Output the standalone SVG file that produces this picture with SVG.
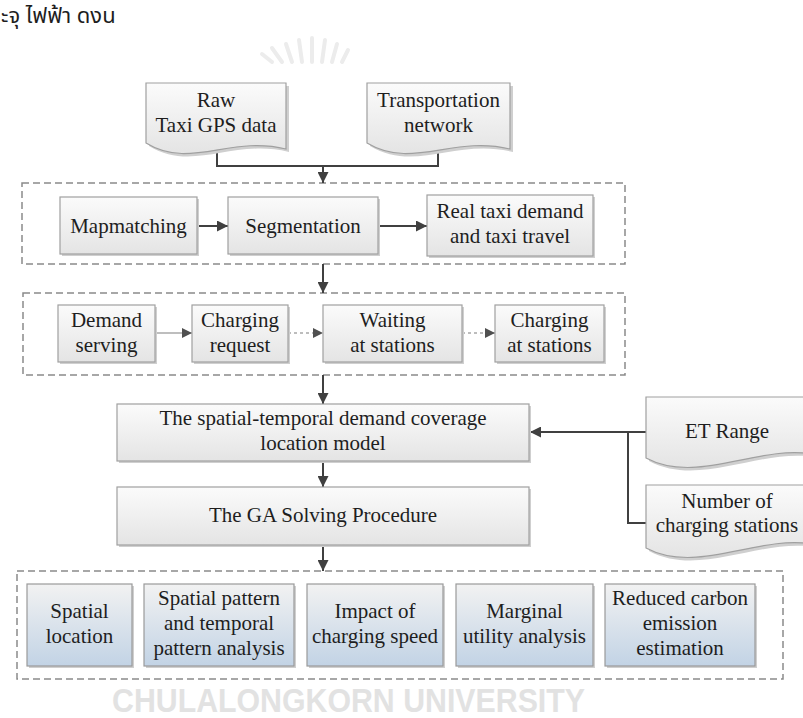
<svg xmlns="http://www.w3.org/2000/svg" width="803" height="718" viewBox="0 0 803 718">
<defs>
<linearGradient id="gGray" x1="0" y1="0" x2="0" y2="1"><stop offset="0" stop-color="#fbfbfb"/><stop offset="1" stop-color="#e4e4e4"/></linearGradient>
<linearGradient id="gBlue" x1="0" y1="0" x2="0" y2="1"><stop offset="0" stop-color="#f2f2f2"/><stop offset="1" stop-color="#c2d3e5"/></linearGradient>
<marker id="ah" viewBox="0 0 10 10" refX="10" refY="5" markerWidth="11" markerHeight="11" markerUnits="userSpaceOnUse" orient="auto"><path d="M0,0 L10,5 L0,10 z" fill="#404040"/></marker>
<marker id="ahs" viewBox="0 0 10 10" refX="10" refY="5" markerWidth="10" markerHeight="10" markerUnits="userSpaceOnUse" orient="auto"><path d="M0,0 L10,5 L0,10 z" fill="#505050"/></marker>
</defs>
<style>
.box{fill:url(#gGray);stroke:#a0a0a0;stroke-width:1.2}
.bbox{fill:url(#gBlue);stroke:#9a9a9a;stroke-width:1.2}
.sh{fill:#cfcfcf;stroke:none}
.doc{fill:url(#gGray);stroke:#a0a0a0;stroke-width:1.2}
.grp{fill:none;stroke:#8a8a8a;stroke-width:1.5;stroke-dasharray:7,4}
text.t{font-family:'Liberation Serif','DejaVu Serif','Noto Serif',serif;font-size:21px;fill:#1e1e1e;text-anchor:middle}
.c{fill:none;stroke:#404040;stroke-width:2}
.ca{fill:none;stroke:#404040;stroke-width:2;marker-end:url(#ah)}
.cl{fill:none;stroke:#a8a8a8;stroke-width:1.4;marker-end:url(#ahs)}
.cd{fill:none;stroke:#a8a8a8;stroke-width:1.4;stroke-dasharray:3,3;marker-end:url(#ahs)}
</style>

<!-- watermark elements -->
<g id="watermark">
<text x="1" y="23" font-family="'Noto Sans Thai','Noto Sans','DejaVu Sans',sans-serif" font-size="22" fill="#1e1e1e">ะจุ ไฟฟ้า ดงน</text>
<g fill="none" stroke="#ececec" stroke-width="4" stroke-linecap="round">
<path d="M272,62 L262,54"/><path d="M282,62 L272,48"/><path d="M292,62 L286,44"/><path d="M302,62 L299,40"/><path d="M312,62 L312,38"/><path d="M322,62 L325,40"/><path d="M332,62 L337,44"/><path d="M342,62 L348,50"/>
</g>
<text x="112" y="712" font-family="'Liberation Sans',Arial,sans-serif" font-weight="bold" font-size="33" textLength="473" lengthAdjust="spacingAndGlyphs" fill="#e2e2e2">CHULALONGKORN UNIVERSITY</text>
</g>

<!-- group frames -->
<g id="frames">
<rect class="grp" x="22" y="183" width="603" height="81"/>
<rect class="grp" x="23" y="293" width="602" height="82"/>
<rect class="grp" x="17" y="571" width="766" height="108"/>
</g>

<g id="connectors">
<path class="c" d="M217,150 V166 H438 V150"/>
<path class="ca" d="M323,166 V183"/>
<path class="ca" d="M197,226 H228"/>
<path class="ca" d="M378,226 H427"/>
<path class="ca" d="M323,264 V293"/>
<path class="cl" d="M155,333 H192"/>
<path class="cd" d="M288,333 H323"/>
<path class="cd" d="M462,333 H495"/>
<path class="ca" d="M323,375 V404"/>
<path class="ca" d="M323,461 V487"/>
<path class="ca" d="M323,545 V571"/>
<path class="ca" d="M646,432 H530"/>
<path class="c" d="M628,432 V523 H646"/>
</g>

<g id="doc-raw">
<path class="sh" d="M149,86 H289 V152 C233,138 193,173 149,146 Z"/>
<path class="doc" d="M146,83 H286 V149 C230,135 190,170 146,143 Z"/>
<text class="t" x="216" y="107">Raw</text>
<text class="t" x="216" y="132">Taxi GPS data</text>
</g>
<g id="doc-network">
<path class="sh" d="M370,86 H513 V152 C456,138 415,173 370,146 Z"/>
<path class="doc" d="M367,83 H510 V149 C453,135 412,170 367,143 Z"/>
<text class="t" x="438.5" y="107">Transportation</text>
<text class="t" x="438.5" y="132">network</text>
</g>

<g id="n-mapmatching">
<rect class="sh" x="62" y="199" width="137" height="57"/>
<rect class="box" x="60" y="197" width="137" height="57"/>
<text class="t" x="128.5" y="233">Mapmatching</text>
</g>
<g id="n-segmentation">
<rect class="sh" x="230" y="199" width="150" height="57"/>
<rect class="box" x="228" y="197" width="150" height="57"/>
<text class="t" x="303" y="233">Segmentation</text>
</g>
<g id="n-realtaxi">
<rect class="sh" x="429" y="197" width="166" height="61"/>
<rect class="box" x="427" y="195" width="166" height="61"/>
<text class="t" x="510" y="218">Real taxi demand</text>
<text class="t" x="510" y="243">and taxi travel</text>
</g>

<g id="n-demand">
<rect class="sh" x="60" y="307" width="97" height="57"/>
<rect class="box" x="58" y="305" width="97" height="57"/>
<text class="t" x="106.5" y="327">Demand</text>
<text class="t" x="106.5" y="352">serving</text>
</g>
<g id="n-request">
<rect class="sh" x="194" y="307" width="96" height="57"/>
<rect class="box" x="192" y="305" width="96" height="57"/>
<text class="t" x="240" y="327">Charging</text>
<text class="t" x="240" y="352">request</text>
</g>
<g id="n-waiting">
<rect class="sh" x="325" y="307" width="139" height="57"/>
<rect class="box" x="323" y="305" width="139" height="57"/>
<text class="t" x="392.5" y="327">Waiting</text>
<text class="t" x="392.5" y="352">at stations</text>
</g>
<g id="n-charging">
<rect class="sh" x="497" y="307" width="109" height="57"/>
<rect class="box" x="495" y="305" width="109" height="57"/>
<text class="t" x="549.5" y="327">Charging</text>
<text class="t" x="549.5" y="352">at stations</text>
</g>

<g id="n-model">
<rect class="sh" x="119" y="406" width="412" height="57"/>
<rect class="box" x="117" y="404" width="412" height="57"/>
<text class="t" x="323" y="425">The spatial-temporal demand coverage</text>
<text class="t" x="323" y="450">location model</text>
</g>
<g id="n-ga">
<rect class="sh" x="119" y="489" width="412" height="58"/>
<rect class="box" x="117" y="487" width="412" height="58"/>
<text class="t" x="323" y="522">The GA Solving Procedure</text>
</g>

<g id="doc-etrange">
<path class="sh" d="M649,400 H815 V457 C760,448 700,488 649,461 Z"/>
<path class="doc" d="M646,397 H812 V454 C757,445 697,485 646,458 Z"/>
<text class="t" x="727" y="438">ET Range</text>
</g>
<g id="doc-number">
<path class="sh" d="M649,488 H815 V547 C760,538 700,578 649,551 Z"/>
<path class="doc" d="M646,485 H812 V544 C757,535 697,575 646,548 Z"/>
<text class="t" x="727" y="508">Number of</text>
<text class="t" x="727" y="532">charging stations</text>
</g>

<g id="n-spatial">
<rect class="sh" x="29" y="586" width="105" height="82"/>
<rect class="bbox" x="27" y="584" width="105" height="82"/>
<text class="t" x="79.5" y="618">Spatial</text>
<text class="t" x="79.5" y="643">location</text>
</g>
<g id="n-pattern">
<rect class="sh" x="146" y="586" width="150" height="82"/>
<rect class="bbox" x="144" y="584" width="150" height="82"/>
<text class="t" x="219" y="605">Spatial pattern</text>
<text class="t" x="219" y="630">and temporal</text>
<text class="t" x="219" y="655">pattern analysis</text>
</g>
<g id="n-impact">
<rect class="sh" x="309" y="586" width="136" height="82"/>
<rect class="bbox" x="307" y="584" width="136" height="82"/>
<text class="t" x="375" y="618">Impact of</text>
<text class="t" x="375" y="643">charging speed</text>
</g>
<g id="n-marginal">
<rect class="sh" x="458" y="586" width="137" height="82"/>
<rect class="bbox" x="456" y="584" width="137" height="82"/>
<text class="t" x="524.5" y="618">Marginal</text>
<text class="t" x="524.5" y="643">utility analysis</text>
</g>
<g id="n-reduced">
<rect class="sh" x="607" y="586" width="150" height="82"/>
<rect class="bbox" x="605" y="584" width="150" height="82"/>
<text class="t" x="680" y="605">Reduced carbon</text>
<text class="t" x="680" y="630">emission</text>
<text class="t" x="680" y="655">estimation</text>
</g>
</svg>
